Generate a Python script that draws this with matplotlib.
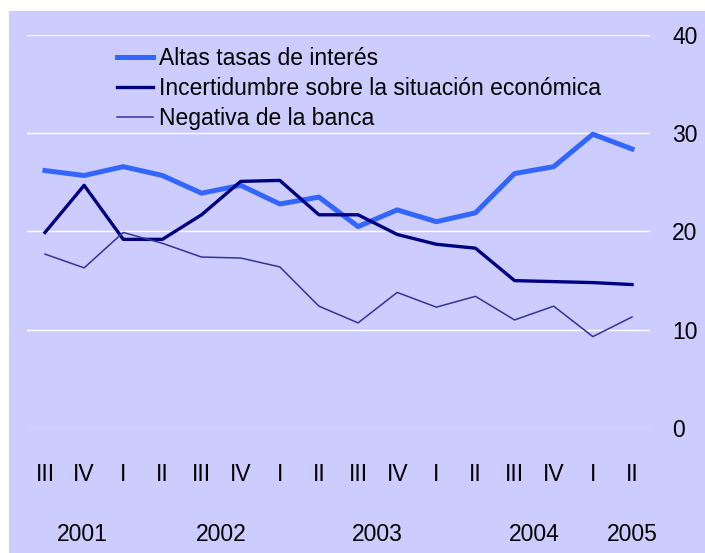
import matplotlib
matplotlib.use("Agg")
import matplotlib.pyplot as plt
from matplotlib.patches import Rectangle
import matplotlib.transforms as mtransforms

plt.rcParams['font.family'] = ['Liberation Sans', 'DejaVu Sans']

quarters = ['III', 'IV', 'I', 'II', 'III', 'IV', 'I', 'II',
            'III', 'IV', 'I', 'II', 'III', 'IV', 'I', 'II']
years = ['2001', '2002', '2003', '2004', '2005']
year_pos = [0.95, 4.5, 8.5, 12.5, 15.0]

altas = [26.2, 25.7, 26.6, 25.7, 23.9, 24.7, 22.8, 23.5,
         20.5, 22.2, 21.0, 21.9, 25.9, 26.6, 29.9, 28.4]
incert = [19.9, 24.7, 19.2, 19.2, 21.7, 25.1, 25.2, 21.7,
          21.7, 19.7, 18.7, 18.3, 15.0, 14.9, 14.8, 14.6]
negativa = [17.7, 16.3, 19.9, 18.8, 17.4, 17.3, 16.4, 12.4,
            10.7, 13.8, 12.3, 13.4, 11.0, 12.4, 9.3, 11.3]

bg = '#CCCCFF'
W, H = 705, 553
fig = plt.figure(figsize=(W / 100, H / 100), dpi=100, facecolor='white')
fig.patches.append(Rectangle((9 / W, 0), 1, 1 - 11 / H, transform=fig.transFigure,
                             facecolor=bg, edgecolor='none', zorder=-10))

ax = fig.add_axes([27 / W, (H - 428) / H, (650 - 27) / W, (428 - 35) / H])
ax.set_zorder(5)
ax.set_facecolor('none')
for s in ax.spines.values():
    s.set_visible(False)

x = list(range(len(quarters)))
ax.plot(x, altas, color='#3366FF', lw=3.6, label='Altas tasas de interés', clip_on=False)
ax.plot(x, incert, color='#000080', lw=2.4, label='Incertidumbre sobre la situación económica', clip_on=False)
ax.plot(x, negativa, color='#333399', lw=1.1, label='Negativa de la banca', clip_on=False)

ax.set_xlim(-0.46, 15.46)
ax.set_ylim(0, 40)
ax.set_yticks([0, 10, 20, 30, 40])
ax.grid(axis='y', color='white', lw=1)
ax.set_axisbelow(True)
ax.yaxis.tick_right()
ax.tick_params(axis='y', length=0, pad=16, labelsize=16.5)
ax.set_xticks(x)
ax.set_xticklabels(quarters)
ax.tick_params(axis='x', length=0, pad=25, labelsize=16.5)

tr = mtransforms.blended_transform_factory(ax.transData, ax.transAxes)
for yr, p in zip(years, year_pos):
    ax.text(p, -0.27, yr, transform=tr, ha='center', va='center', fontsize=16.5)

ax.legend(loc='upper left', bbox_to_anchor=(117 / W, 1 - 47 / H),
          bbox_transform=fig.transFigure, frameon=False, fontsize=16.5,
          handlelength=1.55, handletextpad=0.3, labelspacing=0.3,
          borderpad=0, borderaxespad=0)

fig.savefig('out.png', dpi=100, facecolor='white')
